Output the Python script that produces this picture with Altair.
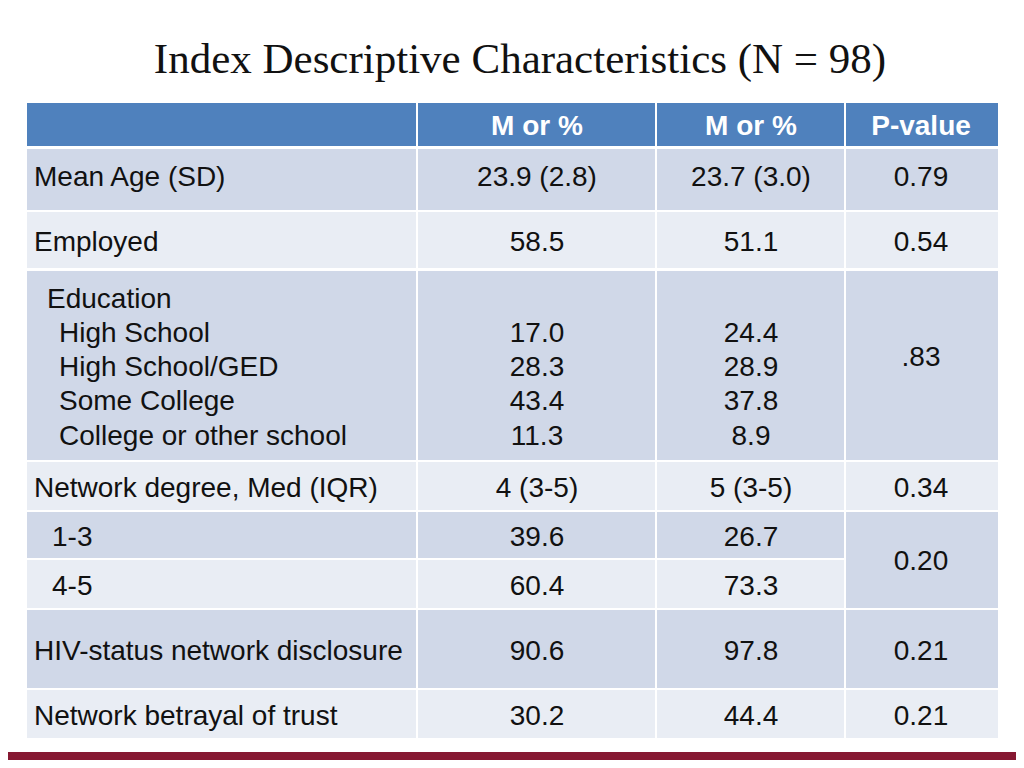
import altair as alt
import pandas as pd

# ---- table content ----
title = "Index Descriptive Characteristics (N = 98)"
header = ["", "M or %", "M or %", "P-value"]
row_labels = ["Mean Age (SD)", "Employed", "Education", "High School", "High School/GED",
              "Some College", "College or other school", "Network degree, Med (IQR)",
              "1-3", "4-5", "HIV-status network disclosure", "Network betrayal of trust"]
group1 = ["23.9 (2.8)", "58.5", "", "17.0", "28.3", "43.4", "11.3", "4 (3-5)",
          "39.6", "60.4", "90.6", "30.2"]
group2 = ["23.7 (3.0)", "51.1", "", "24.4", "28.9", "37.8", "8.9", "5 (3-5)",
          "26.7", "73.3", "97.8", "44.4"]
pvalues = ["0.79", "0.54", ".83", "0.34", "0.20", "0.21", "0.21"]

# ---- layout (page pixel coordinates) ----
col_edges = [(27, 416), (418, 655), (657, 844), (846, 998)]
col_centers = [None, 537, 751, 921]
header_band = (103, 146)
bands = [(149, 210), (212, 268), (271, 460), (462, 510), (512, 558), (560, 608), (610, 688), (690, 738)]
band_dark = [True, False, True, False, True, False, True, False]
line_y = [178, 243, 300, 334, 368, 402, 437, 489, 538, 587, 652, 717]
label_x = [34, 34, 47, 59, 59, 59, 59, 34, 52, 52, 34, 34]
p_y = [178, 243, 358, 489, 562, 652, 717]
p_bands = [(149, 210, True), (212, 268, False), (271, 460, True), (462, 510, False),
           (512, 608, True), (610, 688, True), (690, 738, False)]

BLUE = "#4F81BD"
DARK = "#D0D8E8"
LIGHT = "#E9EDF4"

cells = []
for c, (x0, x1) in enumerate(col_edges):
    cells.append(dict(x0=x0, x1=x1, y0=header_band[0], y1=header_band[1], fill=BLUE))
    if c < 3:
        for (y0, y1), d in zip(bands, band_dark):
            cells.append(dict(x0=x0, x1=x1, y0=y0, y1=y1, fill=DARK if d else LIGHT))
    else:
        for y0, y1, d in p_bands:
            cells.append(dict(x0=x0, x1=x1, y0=y0, y1=y1, fill=DARK if d else LIGHT))
cells.append(dict(x0=0, x1=1024, y0=752, y1=768, fill="#861832"))
cells_df = pd.DataFrame(cells)

texts = []
for c in range(1, 4):
    texts.append(dict(x=col_centers[c], y=127, t=header[c], kind="head"))
for lbl, lx, ly in zip(row_labels, label_x, line_y):
    texts.append(dict(x=lx, y=ly, t=lbl, kind="label"))
for v1, v2, ly in zip(group1, group2, line_y):
    if v1:
        texts.append(dict(x=col_centers[1], y=ly, t=v1, kind="val"))
    if v2:
        texts.append(dict(x=col_centers[2], y=ly, t=v2, kind="val"))
for p, py in zip(pvalues, p_y):
    texts.append(dict(x=col_centers[3], y=py, t=p, kind="val"))
texts_df = pd.DataFrame(texts)

xs = alt.Scale(domain=[8, 1016], nice=False, zero=False)
ys = alt.Scale(domain=[8, 760], nice=False, zero=False, reverse=True)

rects = alt.Chart(cells_df).mark_rect().encode(
    x=alt.X("x0:Q", scale=xs, axis=None), x2="x1:Q",
    y=alt.Y("y0:Q", scale=ys, axis=None), y2="y1:Q",
    color=alt.Color("fill:N", scale=None),
)

FONT = "Liberation Sans"
head = alt.Chart(texts_df[texts_df.kind == "head"]).mark_text(
    font=FONT, fontSize=28, fontWeight="bold", color="white", align="center", baseline="middle"
).encode(x=alt.X("x:Q", scale=xs, axis=None), y=alt.Y("y:Q", scale=ys, axis=None), text="t:N")

labels = alt.Chart(texts_df[texts_df.kind == "label"]).mark_text(
    font=FONT, fontSize=28, color="#111111", align="left", baseline="middle"
).encode(x=alt.X("x:Q", scale=xs, axis=None), y=alt.Y("y:Q", scale=ys, axis=None), text="t:N")

vals = alt.Chart(texts_df[texts_df.kind == "val"]).mark_text(
    font=FONT, fontSize=28, color="#111111", align="center", baseline="middle"
).encode(x=alt.X("x:Q", scale=xs, axis=None), y=alt.Y("y:Q", scale=ys, axis=None), text="t:N")

title_df = pd.DataFrame([dict(x=520, y=60, t=title)])
ttl = alt.Chart(title_df).mark_text(
    font="Liberation Serif", fontSize=43, color="#111111", align="center", baseline="middle"
).encode(x=alt.X("x:Q", scale=xs, axis=None), y=alt.Y("y:Q", scale=ys, axis=None), text="t:N")

chart = alt.layer(rects, head, labels, vals, ttl).properties(
    width=1008, height=752,
    autosize=alt.AutoSizeParams(type="none"),
    padding=0,
    background="white",
).configure_view(stroke=None)

chart.save("out.html", embed_options={"renderer": "svg", "actions": False})
